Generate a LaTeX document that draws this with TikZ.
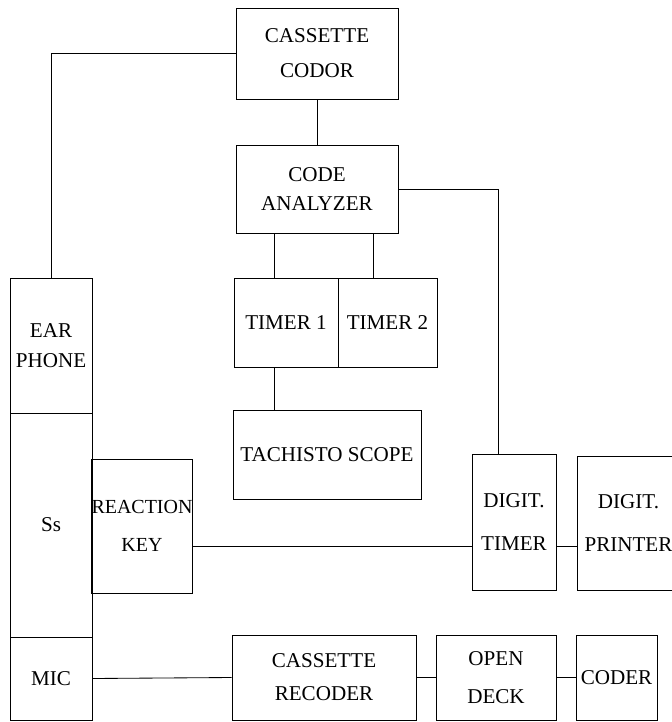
\documentclass[tikz,border=0pt]{standalone}
\usepackage{fontspec}
\setmainfont{Liberation Serif}
\begin{document}
\begin{tikzpicture}[line width=0.6pt,
  blk/.style={draw,inner sep=0pt,align=center,font=\fontsize{15}{25}\selectfont}]
\useasboundingbox (0,0) rectangle (16.775,-18.05);
\node[blk,minimum width=4.05cm,minimum height=2.275cm] (codor) at (7.925,-1.3375) {CASSETTE\\CODOR};
\node[blk,minimum width=4.05cm,minimum height=2.2cm] (analyzer) at (7.925,-4.725) {CODE\\[-4pt]ANALYZER};
\node[blk,minimum width=2.6cm,minimum height=2.225cm] (timer1) at (7.15,-8.0625) {TIMER 1};
\node[blk,minimum width=2.475cm,minimum height=2.225cm] (timer2) at (9.6875,-8.0625) {TIMER 2};
\node[blk,minimum width=4.7cm,minimum height=2.225cm] (scope) at (8.175,-11.3625) {TACHISTO SCOPE};
\node[blk,minimum width=2.05cm,minimum height=3.375cm] (ear) at (1.275,-8.6375) {EAR\\[-4pt]PHONE};
\node[blk,minimum width=2.05cm,minimum height=5.6cm] (ss) at (1.275,-13.125) {Ss};
\node[blk,minimum width=2.05cm,minimum height=2.075cm] (mic) at (1.275,-16.9625) {MIC};
\node[blk,minimum width=2.5cm,minimum height=3.35cm,font=\fontsize{14.2}{27}\selectfont] (key) at (3.55,-13.15) {REACTION\\KEY};
\node[blk,minimum width=2.1cm,minimum height=3.4cm] (dtimer) at (12.85,-13.05) {DIGIT.\\[6pt]TIMER};
\node[blk,minimum width=2.575cm,minimum height=3.35cm] (dprinter) at (15.7125,-13.075) {DIGIT.\\[6pt]PRINTER};
\node[blk,minimum width=4.6cm,minimum height=2.125cm] (recoder) at (8.1,-16.9375) {CASSETTE\\[-1.5pt]RECODER};
\node[blk,minimum width=3cm,minimum height=2.125cm] (deck) at (12.4,-16.9375) {OPEN\\[2pt]DECK};
\node[blk,minimum width=2.025cm,minimum height=2.125cm] (coder) at (15.4125,-16.9375) {CODER};
\draw (codor.west) -| (ear.north);
\draw (codor.south) -- (analyzer.north);
\draw (analyzer.east) -| ([xshift=-0.4cm]dtimer.north);
\draw ([xshift=-0.3cm]timer1.north) -- ([xshift=-0.3cm]timer1.north |- analyzer.south);
\draw ([xshift=-0.36cm]timer2.north) -- ([xshift=-0.36cm]timer2.north |- analyzer.south);
\draw ([xshift=-0.3cm]timer1.south) -- ([xshift=-0.3cm]timer1.south |- scope.north);
\draw ([yshift=-0.5cm]key.east) -- ([yshift=-0.5cm]key.east -| dtimer.west);
\draw ([yshift=-0.6cm]dtimer.east) -- ([yshift=-0.6cm]dtimer.east -| dprinter.west);
\draw (mic.east) -- (recoder.west);
\draw (recoder.east) -- (deck.west);
\draw (deck.east) -- (coder.west);
\end{tikzpicture}
\end{document}
